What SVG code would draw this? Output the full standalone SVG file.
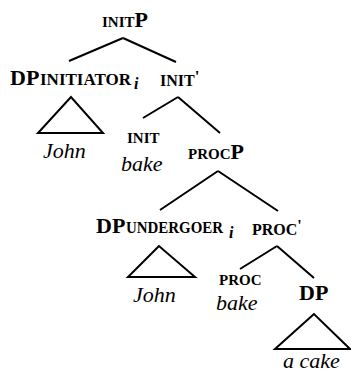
<svg xmlns="http://www.w3.org/2000/svg" width="351" height="372" viewBox="0 0 351 372" font-family="'Liberation Serif', 'Times New Roman', Tinos, 'DejaVu Serif', serif">
<style>
text{font-family:'Liberation Serif','Times New Roman',Tinos,'DejaVu Serif',serif;fill:#000}
.b{font-weight:bold}
.sc{font-weight:bold;font-size:15px}
.sub{font-weight:bold;font-size:16px}
.big{font-weight:bold;font-size:22px}
.it{font-style:italic;font-size:22px}
.e{fill:none;stroke:#000;stroke-width:2}
</style>
<rect width="351" height="372" fill="#fff"/>
<g id="connectors" class="e">
<path d="M123,38L69,61M123,38L176,62"/>
<path d="M178,97L143,118M178,97L220,133"/>
<path d="M218,171L160,210M218,171L278,211"/>
<path d="M277,246L240,269M277,246L314,278"/>
</g>
<g id="initP"><text x="102" y="27"><tspan class="sc">INIT</tspan><tspan class="big">P</tspan></text></g>
<g id="dp-initiator"><text class="big" x="10" y="85">DP</text><text class="sub" x="40" y="85" font-size="17" textLength="91" lengthAdjust="spacingAndGlyphs">INITIATOR</text><text class="b" x="134" y="89" font-style="italic" font-size="16">i</text></g>
<g id="tri1"><polygon class="e" points="71,97 38,133 103,133"/><text class="it" x="43" y="158">John</text></g>
<g id="initbar"><text x="160" y="86"><tspan class="sub" font-size="17">INIT</tspan><tspan class="b" font-size="17" dy="-4">'</tspan></text></g>
<g id="init-head"><text class="sc" x="127" y="143">INIT</text><text class="it" x="121" y="171">bake</text></g>
<g id="procP"><text x="188" y="159"><tspan class="sc" font-size="16">PROC</tspan><tspan class="big">P</tspan></text></g>
<g id="dp-undergoer"><text class="big" x="96" y="233">DP</text><text class="sub" x="126" y="233" textLength="97" lengthAdjust="spacingAndGlyphs">UNDERGOER</text><text class="b" x="229" y="238" font-style="italic" font-size="16">i</text></g>
<g id="tri2"><polygon class="e" points="159,246 128,277 195,277"/><text class="it" x="133" y="302">John</text></g>
<g id="procbar"><text x="252" y="235"><tspan class="sub">PROC</tspan><tspan class="b" font-size="16" dy="-4">'</tspan></text></g>
<g id="proc-head"><text class="sc" x="219" y="285">PROC</text><text class="it" x="216" y="310">bake</text></g>
<g id="dp-obj"><text class="big" x="299" y="300">DP</text></g>
<g id="tri3"><polygon class="e" points="314,314 275,349 350,349"/><text class="it" x="283" y="368">a cake</text></g>
</svg>
